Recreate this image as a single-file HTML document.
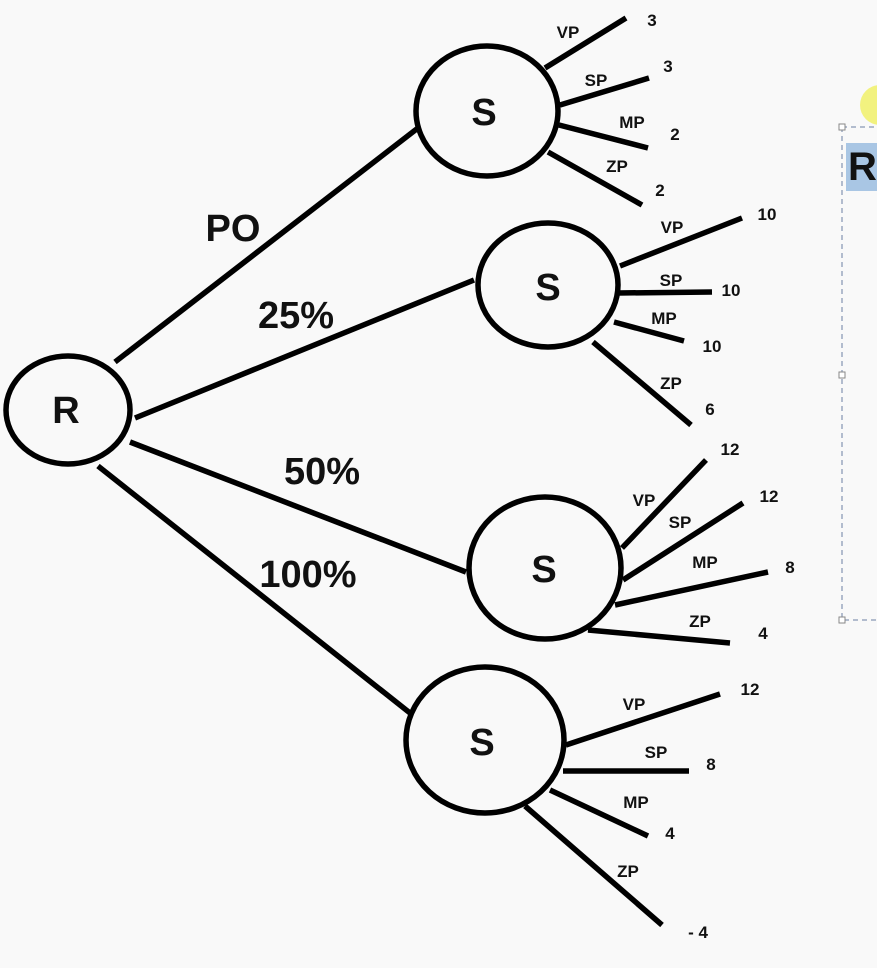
<!DOCTYPE html>
<html><head><style>body{margin:0;background:#f9f9f9}</style></head><body>
<svg width="877" height="968" xmlns="http://www.w3.org/2000/svg" style="display:block">
<rect width="877" height="968" fill="#f9f9f9"/>
<circle cx="880" cy="105" r="20" fill="#f0f060" opacity="0.8"/>
<rect x="846" y="143" width="31" height="48" fill="#a9c6e4"/>
<text x="848" y="180" font-family="Liberation Sans" font-weight="bold" font-size="40" fill="#111">R</text>
<path d="M842 127 H877 M842 127 V620 H877" fill="none" stroke="#9aa8c0" stroke-width="1.5" stroke-dasharray="5,4"/>
<rect x="839" y="124" width="6" height="6" fill="#fff" stroke="#888"/>
<rect x="839" y="372" width="6" height="6" fill="#fff" stroke="#888"/>
<rect x="839" y="617" width="6" height="6" fill="#fff" stroke="#888"/>
<g stroke="#000" stroke-width="5.5" fill="none" stroke-linecap="butt">
<ellipse cx="68" cy="410" rx="62" ry="54"/>
<ellipse cx="487" cy="111" rx="71" ry="65"/>
<ellipse cx="548" cy="285" rx="70" ry="62"/>
<ellipse cx="545" cy="568" rx="76" ry="71"/>
<ellipse cx="485" cy="740" rx="79" ry="73"/>
<line x1="115" y1="362" x2="418" y2="128"/>
<line x1="135" y1="418" x2="474" y2="280"/>
<line x1="130" y1="442" x2="466" y2="572"/>
<line x1="98" y1="466" x2="410" y2="713"/>
<line x1="545" y1="68" x2="626" y2="18"/>
<line x1="560" y1="105" x2="649" y2="78"/>
<line x1="559" y1="125" x2="648" y2="148"/>
<line x1="548" y1="152" x2="642" y2="205"/>
<line x1="620" y1="266" x2="742" y2="218"/>
<line x1="618" y1="293" x2="712" y2="292"/>
<line x1="614" y1="322" x2="684" y2="341"/>
<line x1="593" y1="342" x2="691" y2="425"/>
<line x1="622" y1="548" x2="706" y2="460"/>
<line x1="623" y1="580" x2="743" y2="503"/>
<line x1="615" y1="605" x2="768" y2="572"/>
<line x1="588" y1="630" x2="730" y2="643"/>
<line x1="566" y1="745" x2="720" y2="694"/>
<line x1="563" y1="771" x2="689" y2="771"/>
<line x1="550" y1="790" x2="648" y2="836"/>
<line x1="525" y1="806" x2="662" y2="925"/>
</g>
<g font-family="Liberation Sans, sans-serif" font-weight="bold" fill="#111" text-anchor="middle">
<g font-size="38"><text x="66" y="423">R</text><text x="484" y="125">S</text><text x="548" y="300">S</text><text x="544" y="582">S</text><text x="482" y="755">S</text>
<text x="233" y="241">PO</text><text x="296" y="328">25%</text><text x="322" y="484">50%</text><text x="308" y="587">100%</text></g>
<g font-size="17">
<text x="568" y="38">VP</text><text x="652" y="26">3</text><text x="596" y="86">SP</text><text x="668" y="72">3</text><text x="632" y="128">MP</text><text x="675" y="140">2</text><text x="617" y="172">ZP</text><text x="660" y="196">2</text>
<text x="672" y="233">VP</text><text x="767" y="220">10</text><text x="671" y="286">SP</text><text x="731" y="296">10</text><text x="664" y="324">MP</text><text x="712" y="352">10</text><text x="671" y="389">ZP</text><text x="710" y="415">6</text>
<text x="644" y="506">VP</text><text x="730" y="455">12</text><text x="680" y="528">SP</text><text x="769" y="502">12</text><text x="705" y="568">MP</text><text x="790" y="573">8</text><text x="700" y="627">ZP</text><text x="763" y="639">4</text>
<text x="634" y="710">VP</text><text x="750" y="695">12</text><text x="656" y="758">SP</text><text x="711" y="770">8</text><text x="636" y="808">MP</text><text x="670" y="839">4</text><text x="628" y="877">ZP</text><text x="698" y="938">- 4</text>
</g></g>
</svg>
</body></html>
